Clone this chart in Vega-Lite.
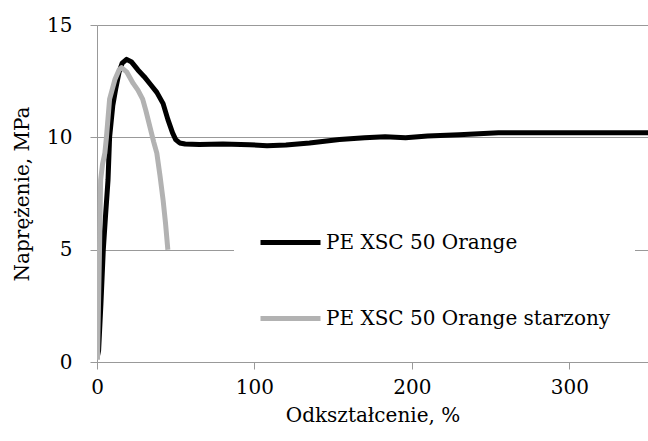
{
  "$schema": "https://vega.github.io/schema/vega-lite/v6.json",
  "width": 551,
  "height": 337,
  "autosize": "none",
  "padding": {"left": 97, "top": 25, "right": 0, "bottom": 79},
  "background": "white",
  "config": {
    "font": "DejaVu Serif",
    "view": {"stroke": null}
  },
  "data": {
    "values": [
      {"s": "PE XSC 50 Orange", "x": 0.4, "y": 0.3},
      {"s": "PE XSC 50 Orange", "x": 1, "y": 0.5},
      {"s": "PE XSC 50 Orange", "x": 2.5, "y": 2.6},
      {"s": "PE XSC 50 Orange", "x": 4, "y": 5},
      {"s": "PE XSC 50 Orange", "x": 5.5, "y": 6.6},
      {"s": "PE XSC 50 Orange", "x": 7, "y": 8.1},
      {"s": "PE XSC 50 Orange", "x": 8, "y": 10},
      {"s": "PE XSC 50 Orange", "x": 10, "y": 11.4},
      {"s": "PE XSC 50 Orange", "x": 12, "y": 12.2},
      {"s": "PE XSC 50 Orange", "x": 14, "y": 12.9},
      {"s": "PE XSC 50 Orange", "x": 16, "y": 13.3},
      {"s": "PE XSC 50 Orange", "x": 18.8, "y": 13.47},
      {"s": "PE XSC 50 Orange", "x": 22, "y": 13.35},
      {"s": "PE XSC 50 Orange", "x": 26, "y": 13.0},
      {"s": "PE XSC 50 Orange", "x": 30, "y": 12.7},
      {"s": "PE XSC 50 Orange", "x": 34, "y": 12.35},
      {"s": "PE XSC 50 Orange", "x": 38, "y": 12.0},
      {"s": "PE XSC 50 Orange", "x": 42, "y": 11.5},
      {"s": "PE XSC 50 Orange", "x": 45, "y": 10.8},
      {"s": "PE XSC 50 Orange", "x": 48, "y": 10.2},
      {"s": "PE XSC 50 Orange", "x": 50, "y": 9.9},
      {"s": "PE XSC 50 Orange", "x": 52.5, "y": 9.75},
      {"s": "PE XSC 50 Orange", "x": 56, "y": 9.7},
      {"s": "PE XSC 50 Orange", "x": 65, "y": 9.68},
      {"s": "PE XSC 50 Orange", "x": 80, "y": 9.7},
      {"s": "PE XSC 50 Orange", "x": 97, "y": 9.67},
      {"s": "PE XSC 50 Orange", "x": 108, "y": 9.63},
      {"s": "PE XSC 50 Orange", "x": 120, "y": 9.66},
      {"s": "PE XSC 50 Orange", "x": 135, "y": 9.75},
      {"s": "PE XSC 50 Orange", "x": 154, "y": 9.9},
      {"s": "PE XSC 50 Orange", "x": 170, "y": 9.98},
      {"s": "PE XSC 50 Orange", "x": 183, "y": 10.03},
      {"s": "PE XSC 50 Orange", "x": 196, "y": 9.98},
      {"s": "PE XSC 50 Orange", "x": 210, "y": 10.06},
      {"s": "PE XSC 50 Orange", "x": 230, "y": 10.12},
      {"s": "PE XSC 50 Orange", "x": 255, "y": 10.2},
      {"s": "PE XSC 50 Orange", "x": 300, "y": 10.2},
      {"s": "PE XSC 50 Orange", "x": 350, "y": 10.2},
      {"s": "PE XSC 50 Orange starzony", "x": 0.3, "y": 0.1},
      {"s": "PE XSC 50 Orange starzony", "x": 0.8, "y": 2},
      {"s": "PE XSC 50 Orange starzony", "x": 1.6, "y": 5},
      {"s": "PE XSC 50 Orange starzony", "x": 2.3, "y": 8.1},
      {"s": "PE XSC 50 Orange starzony", "x": 3.5, "y": 8.8},
      {"s": "PE XSC 50 Orange starzony", "x": 5, "y": 9.3},
      {"s": "PE XSC 50 Orange starzony", "x": 6, "y": 10},
      {"s": "PE XSC 50 Orange starzony", "x": 8, "y": 11.7},
      {"s": "PE XSC 50 Orange starzony", "x": 11.5, "y": 12.6},
      {"s": "PE XSC 50 Orange starzony", "x": 14, "y": 13.0},
      {"s": "PE XSC 50 Orange starzony", "x": 15.6, "y": 13.1},
      {"s": "PE XSC 50 Orange starzony", "x": 19, "y": 12.9},
      {"s": "PE XSC 50 Orange starzony", "x": 23, "y": 12.4},
      {"s": "PE XSC 50 Orange starzony", "x": 26, "y": 12.1},
      {"s": "PE XSC 50 Orange starzony", "x": 29, "y": 11.7},
      {"s": "PE XSC 50 Orange starzony", "x": 31, "y": 11.2},
      {"s": "PE XSC 50 Orange starzony", "x": 33.5, "y": 10.5},
      {"s": "PE XSC 50 Orange starzony", "x": 36, "y": 9.8},
      {"s": "PE XSC 50 Orange starzony", "x": 38, "y": 9.3},
      {"s": "PE XSC 50 Orange starzony", "x": 40, "y": 8.3},
      {"s": "PE XSC 50 Orange starzony", "x": 42, "y": 7.2},
      {"s": "PE XSC 50 Orange starzony", "x": 43.5, "y": 6.2},
      {"s": "PE XSC 50 Orange starzony", "x": 45, "y": 5.0}
    ]
  },
  "encoding": {
    "x": {
      "field": "x", "type": "quantitative",
      "scale": {"domain": [0, 350], "nice": false},
      "axis": {
        "title": "Odkształcenie, %",
        "values": [0, 100, 200, 300],
        "grid": false,
        "domainColor": "#999999",
        "tickColor": "#999999",
        "tickSize": 7,
        "labelFontSize": 20,
        "labelColor": "black",
        "labelPadding": 8,
        "labelFlush": false,
        "titleFontSize": 20,
        "titleFontWeight": "normal",
        "titleColor": "black",
        "titlePadding": 8
      }
    },
    "y": {
      "field": "y", "type": "quantitative",
      "scale": {"domain": [0, 15], "nice": false},
      "axis": {
        "title": "Naprężenie, MPa",
        "values": [0, 5, 10, 15],
        "grid": true,
        "gridColor": "#999999",
        "gridOpacity": 1,
        "domainColor": "#999999",
        "tickColor": "#999999",
        "tickSize": 7,
        "labelFontSize": 20,
        "labelColor": "black",
        "labelPadding": 18,
        "titleFontSize": 20,
        "titleFontWeight": "normal",
        "titleColor": "black",
        "titlePadding": 14
      }
    },
    "color": {
      "field": "s", "type": "nominal",
      "scale": {"domain": ["PE XSC 50 Orange", "PE XSC 50 Orange starzony"], "range": ["#000000", "#b2b2b2"]},
      "legend": {
        "title": null,
        "orient": "none",
        "legendX": 137,
        "legendY": 161,
        "fillColor": "white",
        "padding": 24,
        "symbolType": "stroke",
        "symbolSize": 3600,
        "symbolStrokeWidth": 5,
        "labelFontSize": 20,
        "labelColor": "black",
        "labelOffset": 3,
        "rowPadding": 33,
        "labelLimit": 400
      }
    }
  },
  "layer": [
    {
      "transform": [{"filter": "datum.s === 'PE XSC 50 Orange'"}],
      "mark": {"type": "line", "strokeWidth": 5, "strokeJoin": "round", "clip": true}
    },
    {
      "transform": [{"filter": "datum.s === 'PE XSC 50 Orange starzony'"}],
      "mark": {"type": "line", "strokeWidth": 5, "strokeJoin": "round", "clip": true}
    }
  ]
}
